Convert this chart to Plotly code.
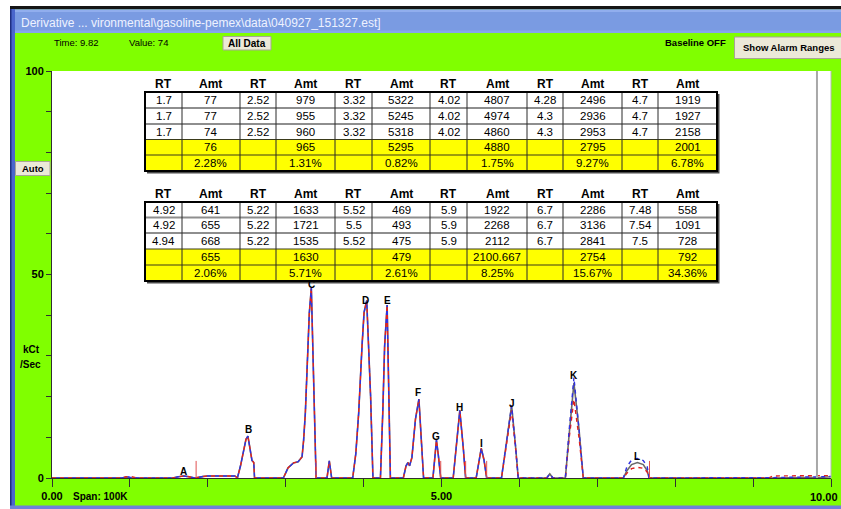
import plotly.graph_objects as go

W, H = 841, 509
FONT = "Liberation Sans, Arial, sans-serif"

# ---------------- chromatogram data (time in min, signal in kCt/Sec) ----------------
time = [0.00, 0.90, 0.95, 1.00, 1.10, 1.55, 1.62, 1.69, 1.76, 1.83, 1.95, 2.00, 2.35,
        2.38, 2.42, 2.46, 2.49, 2.515, 2.54, 2.567, 2.59, 2.60,
        2.97, 3.03, 3.10, 3.16, 3.21, 3.23, 3.252, 3.274, 3.303, 3.329, 3.36, 3.39,
        3.53, 3.56, 3.59,
        3.86, 3.90, 3.937, 3.98, 4.006, 4.04, 4.07, 4.09, 4.12,
        4.216, 4.246, 4.27, 4.302, 4.323, 4.344,
        4.51, 4.545, 4.57, 4.59, 4.62, 4.666, 4.71, 4.74, 4.752, 4.77,
        4.89, 4.915, 4.935, 4.96, 4.99,
        5.15, 5.19, 5.235, 5.28, 5.31,
        5.445, 5.48, 5.51, 5.545, 5.58,
        5.77, 5.82, 5.86, 5.90, 5.95, 5.985,
        6.35, 6.39, 6.43,
        6.59, 6.64, 6.70, 6.765, 6.82,
        7.335, 7.38, 7.44, 7.515, 7.59, 7.64, 7.665,
        9.20, 9.25, 9.90, 10.0]

run1_gray = [0, 0, 0.2, 0, 0, 0, 0.3, 0.5, 0.3, 0, 0.4, 0.5, 0.5,
             0, 3, 6.5, 9.5, 10.3, 7.5, 4.3, 3.8, 0,
             0, 2.5, 3.7, 4.0, 5.2, 9.3, 15.9, 28.2, 40.5, 46.7, 22, 0,
             0, 4.2, 0,
             0, 6, 16, 32.5, 40.7, 43.6, 30, 20, 0,
             0, 16, 32.5, 42.5, 24, 0,
             0, 3.0, 3.8, 3.0, 5, 14.5, 19.4, 9.6, 4.7, 0,
             0, 5, 9.3, 5.5, 0,
             0, 7.3, 16.6, 7.3, 0,
             0, 4.5, 7.3, 4.5, 0,
             0, 7, 13, 17.8, 7.9, 0,
             0, 1, 0,
             0, 11, 23.3, 12, 0,
             0, 1.8, 3.3, 3.8, 3.3, 1.8, 0,
             0, 0, 0.2, 0.3]

run2_blue = [0, 0, 0.4, 0.2, 0, 0, 0.3, 0.5, 0.3, 0, 0.4, 0.5, 0.5,
             0, 3, 6.5, 9.5, 10.3, 7.5, 4.3, 3.8, 0,
             0, 2.5, 3.7, 4.0, 5.2, 9.3, 15.9, 28.2, 40.5, 46.7, 22, 0,
             0, 4.2, 0,
             0, 6, 16, 32.5, 40.7, 43.6, 30, 20, 0,
             0, 16, 32.5, 42.5, 24, 0,
             0, 3.0, 3.8, 3.0, 5, 14.5, 19.4, 9.6, 4.7, 0,
             0, 5, 9.3, 5.5, 0,
             0, 7.3, 16.6, 7.3, 0,
             0, 4.5, 7.3, 4.5, 0,
             0, 7, 13, 17.8, 7.9, 0,
             0, 1, 0,
             0, 12, 24.7, 12, 0,
             0, 2.8, 4.4, 4.8, 4.3, 2.8, 0,
             0, 0.1, 0.3, 0.4]

run3_red = [0, 0, 0.3, 0.4, 0, 0, 0.3, 0.5, 0.3, 0, 0.4, 0.5, 0.5,
            0, 3, 6.5, 9.5, 10.3, 7.5, 4.3, 3.8, 0,
            0, 2.5, 3.7, 4.0, 5.2, 9.3, 15.9, 28.2, 40.5, 46.7, 22, 0,
            0, 4.2, 0,
            0, 6, 16, 32.5, 40.7, 43.6, 30, 20, 0,
            0, 16, 32.5, 42.5, 24, 0,
            0, 3.0, 3.8, 3.0, 5, 14.5, 19.4, 9.6, 4.7, 0,
            0, 5, 9.3, 5.5, 0,
            0, 7.3, 16.6, 7.3, 0,
            0, 4.5, 7.3, 4.5, 0,
            0, 6.5, 12, 16.6, 7.5, 0,
            0, 0.5, 0,
            0, 10, 19.3, 10, 0,
            0, 1.2, 2.3, 2.6, 2.4, 1.5, 0,
            0, 0.5, 0.5, 0.6]

# integration end markers
marker_times = [1.85, 3.39, 4.99, 5.31, 5.58, 7.67]
marker_height = 4.2

# peak labels
peak_letters = ["A", "B", "C", "D", "E", "F", "G", "H", "I", "J", "K", "L"]
peak_label_time = [1.69, 2.52, 3.33, 4.02, 4.31, 4.70, 4.935, 5.23, 5.51, 5.90, 6.70, 7.51]
peak_label_value = [1.7, 11.8, 47.6, 43.7, 43.7, 20.9, 10.1, 17.4, 8.6, 18.4, 25.1, 5.2]

cursor_time = 9.82

x_tickvals = [0, 1, 2, 3, 4, 5, 6, 7, 8, 9, 10]
x_ticktext = ["0.00", "", "", "", "", "5.00", "", "", "", "", ""]
x_end_label = "10.00"
y_tickvals = [0, 10, 20, 30, 40, 50, 60, 70, 80, 90, 100]
y_ticktext = ["0", "", "", "", "", "50", "", "", "", "", "100"]

# ---------------- table data ----------------
t1_rt = [["1.7", "1.7", "1.7"], ["2.52", "2.52", "2.52"], ["3.32", "3.32", "3.32"],
         ["4.02", "4.02", "4.02"], ["4.28", "4.3", "4.3"], ["4.7", "4.7", "4.7"]]
t1_amt = [["77", "77", "74"], ["979", "955", "960"], ["5322", "5245", "5318"],
          ["4807", "4974", "4860"], ["2496", "2936", "2953"], ["1919", "1927", "2158"]]
t1_avg = ["76", "965", "5295", "4880", "2795", "2001"]
t1_rsd = ["2.28%", "1.31%", "0.82%", "1.75%", "9.27%", "6.78%"]

t2_rt = [["4.92", "4.92", "4.94"], ["5.22", "5.22", "5.22"], ["5.52", "5.5", "5.52"],
         ["5.9", "5.9", "5.9"], ["6.7", "6.7", "6.7"], ["7.48", "7.54", "7.5"]]
t2_amt = [["641", "655", "668"], ["1633", "1721", "1535"], ["469", "493", "475"],
          ["1922", "2268", "2112"], ["2286", "3136", "2841"], ["558", "1091", "728"]]
t2_avg = ["655", "1630", "479", "2100.667", "2754", "792"]
t2_rsd = ["2.06%", "5.71%", "2.61%", "8.25%", "15.67%", "34.36%"]

# ---------------- helpers (pixel -> paper) ----------------
def px(x):
    return x / W

def py(y):
    return 1 - y / H

shapes = []
annotations = []

def rect(x0, y0, x1, y1, fill=None, lc=None, lw=0, layer="above"):
    shapes.append(dict(type="rect", xref="paper", yref="paper",
                       x0=px(x0), x1=px(x1), y0=py(y1), y1=py(y0),
                       fillcolor=fill if fill else "rgba(0,0,0,0)",
                       line=dict(color=lc if lc else "rgba(0,0,0,0)", width=lw),
                       layer=layer))

def line(x0, y0, x1, y1, color, w, layer="above"):
    shapes.append(dict(type="line", xref="paper", yref="paper",
                       x0=px(x0), x1=px(x1), y0=py(y0), y1=py(y1),
                       line=dict(color=color, width=w), layer=layer))

def text(x, y, s, size=10, bold=False, color="black", xanchor="center"):
    annotations.append(dict(xref="paper", yref="paper", x=px(x), y=py(y), text=s,
                            showarrow=False, xanchor=xanchor, yanchor="middle",
                            font=dict(family=FONT, size=size, color=color,
                                      weight="bold" if bold else "normal")))

# ---------------- window chrome ----------------
rect(0, 0, W, 7, "#FFFFFF", layer="below")
rect(0, 0, 10, H, "#FFFFFF", layer="below")
rect(10, 6, W, 9.5, "#151515", layer="below")
rect(10, 9.5, W, 33, "#7A9BE2", layer="below")
rect(10, 9.5, W, 12, "#91AEEE", layer="below")
rect(10, 30.5, W, 33, "#86A6EC", layer="below")
rect(10, 9, 15, H, "#4A66CC", layer="below")
rect(10, 9, 11.5, H, "#1E2E80", layer="below")
rect(10, 505.5, W, H, "#6F80DA", layer="below")
text(19, 22.5, r"Derivative ... vironmental\gasoline-pemex\data\040927_151327.est]",
     size=12, color="#EEF2FF", xanchor="left")

# header row
text(52, 43, "Time: 9.82", size=9.5, xanchor="left")
text(127, 43, "Value: 74", size=9.5, xanchor="left")
rect(223, 36.5, 271, 50, "#ECE9D8", "#A9A595", 1, layer="below")
text(247, 43.5, "All Data", size=10, bold=True)
text(728, 42.5, "Baseline OFF", size=9.5, bold=True, xanchor="right")
rect(734.5, 37, 845, 58.5, "#ECE9D8", "#A9A595", 1, layer="below")
text(789, 47.5, "Show Alarm Ranges", size=9.5, bold=True)
rect(15.5, 161.5, 50, 175.5, "#ECE9D8", "#A9A595", 1, layer="below")
text(33, 168.5, "Auto", size=9.5, bold=True)
text(31.5, 349, "kCt", size=10, bold=True)
text(31, 364, "/Sec", size=10, bold=True)
text(100, 496.5, "Span: 100K", size=10, bold=True)
text(840, 496.5, x_end_label, size=11, bold=True, xanchor="right")

# plot right edge and cursor
line(831, 71, 831, 478, "#B8B8B8", 1)
shapes.append(dict(type="line", xref="x", yref="paper", x0=cursor_time, x1=cursor_time,
                   y0=py(478), y1=py(71), line=dict(color="#A8A8A8", width=2), layer="above"))

# ---------------- tables ----------------
col_edges = [145, 182, 240, 276, 335, 372, 430, 467, 527, 563, 622, 658, 717]

def draw_table(header_y, rows, rts, amts, avgs, rsds):
    left, right = col_edges[0], col_edges[-1]
    top, bot = rows[0], rows[-1]
    rect(left + 2, top + 2, right + 2.5, bot + 2.5, "#4A4A4A")
    rect(left, top, right, rows[3], "#FFFFFF")
    rect(left, rows[3], right, bot, "#FFFF00")
    for r in (1, 2):
        line(left, rows[r], right, rows[r], "#8E8E8E", 2)
    for r in (3, 4):
        line(left, rows[r], right, rows[r], "#3A3A1A", 1)
    for c in col_edges[1:-1]:
        line(c, top, c, bot, "#2A2A2A", 1)
    rect(left, top, right, bot, None, "#000000", 2)
    for i in range(12):
        cx = (col_edges[i] + col_edges[i + 1]) / 2
        text(cx, header_y, "RT" if i % 2 == 0 else "Amt", size=12, bold=True)
    for k in range(6):
        cx_rt = (col_edges[2 * k] + col_edges[2 * k + 1]) / 2
        cx_amt = (col_edges[2 * k + 1] + col_edges[2 * k + 2]) / 2
        for r in range(3):
            cy = (rows[r] + rows[r + 1]) / 2
            text(cx_rt, cy, rts[k][r], size=11.5)
            text(cx_amt, cy, amts[k][r], size=11.5)
        text(cx_amt, (rows[3] + rows[4]) / 2, avgs[k], size=11.5)
        text(cx_amt, (rows[4] + rows[5]) / 2, rsds[k], size=11.5)

draw_table(84, [92, 108, 124, 139.5, 155, 171], t1_rt, t1_amt, t1_avg, t1_rsd)
draw_table(194, [202, 217.5, 233, 249, 265, 281], t2_rt, t2_amt, t2_avg, t2_rsd)

# ---------------- traces ----------------
fig = go.Figure()
fig.add_trace(go.Scatter(x=time, y=run1_gray, mode="lines",
                         line=dict(color="#6A6A6A", width=1.6), hoverinfo="skip"))
fig.add_trace(go.Scatter(x=time, y=run3_red, mode="lines",
                         line=dict(color="#E02020", width=1.4, dash="4px,4px"), hoverinfo="skip"))
fig.add_trace(go.Scatter(x=time, y=run2_blue, mode="lines",
                         line=dict(color="#3030E0", width=1.4, dash="0px,4px,4px,0px"), hoverinfo="skip"))

mx, my = [], []
for t in marker_times:
    mx += [t, t, None]
    my += [0, marker_height, None]
fig.add_trace(go.Scatter(x=mx, y=my, mode="lines",
                         line=dict(color="#E05050", width=1), hoverinfo="skip"))

for lab, lt, lv in zip(peak_letters, peak_label_time, peak_label_value):
    annotations.append(dict(xref="x", yref="y", x=lt, y=lv, text=lab, showarrow=False,
                            xanchor="center", yanchor="middle",
                            font=dict(family=FONT, size=10, color="black", weight="bold")))

fig.update_layout(
    template="none",
    width=W, height=H, autosize=False,
    margin=dict(l=0, r=0, t=0, b=0, pad=0),
    paper_bgcolor="#80FF00", plot_bgcolor="#FFFFFF",
    showlegend=False,
    shapes=shapes, annotations=annotations,
    xaxis=dict(domain=[52 / W, 831 / W], range=[0, 10], showgrid=False, zeroline=False,
               automargin=False, ticklabeloverflow="allow",
               showline=True, linecolor="#303030", linewidth=1,
               ticks="outside", ticklen=8, tickcolor="#303030", tickwidth=1,
               tickvals=x_tickvals, ticktext=x_ticktext,
               tickfont=dict(family=FONT, size=11, color="black", weight="bold"),
               fixedrange=True),
    yaxis=dict(domain=[1 - 478 / H, 1 - 71 / H], range=[0, 100], showgrid=False, zeroline=False,
               automargin=False, ticklabeloverflow="allow",
               showline=True, linecolor="#303030", linewidth=1,
               ticks="outside", ticklen=5, tickcolor="#303030", tickwidth=1,
               tickvals=y_tickvals, ticktext=y_ticktext,
               tickfont=dict(family=FONT, size=11, color="black", weight="bold"),
               fixedrange=True),
)

fig.write_html("out.html", config={"displayModeBar": False},
               post_script="document.body.style.margin='0';document.body.style.overflow='hidden';")
